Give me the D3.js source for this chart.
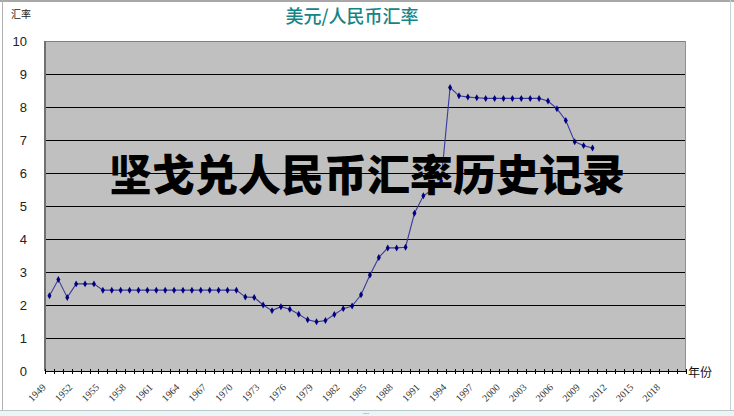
<!DOCTYPE html>
<html><head><meta charset="utf-8">
<script src="https://cdn.jsdelivr.net/npm/d3@7/dist/d3.min.js"></script>
<style>body{margin:0;background:#fff;}svg{display:block;}</style>
</head><body>
<svg id="c" width="734" height="416"></svg>
<script>
const categories = [1949,1950,1951,1952,1953,1954,1955,1956,1957,1958,1959,1960,1961,1962,1963,1964,1965,1966,1967,1968,1969,1970,1971,1972,1973,1974,1975,1976,1977,1978,1979,1980,1981,1982,1983,1984,1985,1986,1987,1988,1989,1990,1991,1992,1993,1994,1995,1996,1997,1998,1999,2000,2001,2002,2003,2004,2005,2006,2007,2008,2009,2010,2011,2012,2013,2014,2015,2016,2017,2018,2019,2020];
const rates = [2.28,2.77,2.23,2.64,2.64,2.64,2.45,2.45,2.45,2.45,2.45,2.45,2.45,2.45,2.45,2.45,2.45,2.45,2.45,2.45,2.45,2.45,2.24,2.23,2.00,1.83,1.95,1.87,1.72,1.55,1.49,1.53,1.71,1.89,1.97,2.31,2.91,3.44,3.73,3.73,3.75,4.78,5.31,5.49,5.76,8.59,8.34,8.30,8.28,8.26,8.26,8.26,8.26,8.26,8.26,8.26,8.18,7.95,7.59,6.95,6.83,6.76];
const xTickLabels = [1949,1952,1955,1958,1961,1964,1967,1970,1973,1976,1979,1982,1985,1988,1991,1994,1997,2000,2003,2006,2009,2012,2015,2018];
const yTicks = [0,1,2,3,4,5,6,7,8,9,10];
const title = "美元/人民币汇率";
const yTitle = "汇率";
const xTitle = "年份";
const watermark = "坚戈兑人民币汇率历史记录";

const svg = d3.select("#c");
const L = 45, R = 686, T = 41, B = 371;
const x = d3.scaleBand().domain(categories).range([L, R]);
const y = d3.scaleLinear().domain([0, 10]).range([B, T]);

// frame
svg.append("rect").attr("x",0).attr("y",0).attr("width",734).attr("height",416).attr("fill","#fff");
svg.append("rect").attr("x",0).attr("y",411).attr("width",734).attr("height",5).attr("fill","#eaf5f5");
svg.append("line").attr("x1",0).attr("x2",734).attr("y1",410.5).attr("y2",410.5).attr("stroke","#b8c8c8");
svg.append("rect").attr("x",0).attr("y",0).attr("width",734).attr("height",2).attr("fill","#a8a8a8");
svg.append("line").attr("x1",2.5).attr("x2",2.5).attr("y1",0).attr("y2",410).attr("stroke","#b0b0b0");
svg.append("line").attr("x1",730.5).attr("x2",730.5).attr("y1",0).attr("y2",410).attr("stroke","#c8d4d4");
svg.append("text").attr("x",366).attr("y",414).attr("text-anchor","middle").attr("font-size",6).attr("fill","#666").text("....");

// plot area
svg.append("rect").attr("x",L).attr("y",T).attr("width",R-L).attr("height",B-T).attr("fill","#c0c0c0");

// gridlines
svg.append("g").selectAll("line").data(yTicks.filter(v=>v>0&&v<10)).join("line")
  .attr("x1",L).attr("x2",R).attr("y1",d=>Math.round(y(d))+0.5).attr("y2",d=>Math.round(y(d))+0.5)
  .attr("stroke","#000").attr("stroke-width",1);

// borders
svg.append("line").attr("x1",L).attr("x2",R).attr("y1",T+0.5).attr("y2",T+0.5).attr("stroke","#808080");
svg.append("line").attr("x1",R-0.5).attr("x2",R-0.5).attr("y1",T).attr("y2",B).attr("stroke","#909090");
svg.append("line").attr("x1",L).attr("x2",L).attr("y1",T).attr("y2",B).attr("stroke","#707070").attr("stroke-width",2);
svg.append("line").attr("x1",L).attr("x2",R).attr("y1",B+0.5).attr("y2",B+0.5).attr("stroke","#000");

// x ticks
const bounds = categories.map(c=>x(c)).concat([R]);
svg.append("g").selectAll("line").data(bounds).join("line")
  .attr("x1",d=>Math.round(d)+0.5).attr("x2",d=>Math.round(d)+0.5).attr("y1",B-2).attr("y2",B+3)
  .attr("stroke","#000");

// y labels
svg.append("g").selectAll("text").data(yTicks).join("text")
  .attr("x",27).attr("y",d=>y(d)+5).attr("text-anchor","end")
  .attr("font-family","Liberation Sans, Arial, sans-serif").attr("font-size",13).attr("fill","#222")
  .text(d=>d);

// x labels
svg.append("g").selectAll("text").data(xTickLabels).join("text")
  .attr("transform",d=>`translate(${x(d)+x.bandwidth()/2-3},${B+17}) rotate(-45)`)
  .attr("text-anchor","end")
  .attr("font-family","Liberation Serif, serif").attr("font-size",10).attr("fill","#333")
  .text(d=>d);

// titles
svg.append("text").attr("x",352).attr("y",23).attr("text-anchor","middle")
  .attr("font-family","Noto Sans CJK SC, sans-serif").attr("font-weight",500).attr("font-size",18).attr("fill","#138585").text(title);
svg.append("text").attr("x",11).attr("y",18)
  .attr("font-family","Noto Sans CJK SC, sans-serif").attr("font-size",10).attr("fill","#222").text(yTitle);
svg.append("text").attr("x",688).attr("y",377)
  .attr("font-family","Noto Sans CJK SC, sans-serif").attr("font-size",12).attr("fill","#111").text(xTitle);

// series
const pts = rates.map((v,i)=>({c:categories[i], v}));
const cx = d => x(d.c) + x.bandwidth()/2;
svg.append("path").datum(pts)
  .attr("d", d3.line().x(cx).y(d=>y(d.v)))
  .attr("fill","none").attr("stroke","#3a3a9c").attr("stroke-width",1.1);
svg.append("g").selectAll("path").data(pts).join("path")
  .attr("transform",d=>`translate(${cx(d)},${y(d.v)})`)
  .attr("d", d3.symbol(d3.symbolDiamond, 14))
  .attr("fill","#000080");

// watermark
svg.append("text").attr("x",367).attr("y",191).attr("text-anchor","middle")
  .attr("font-family","Noto Sans CJK SC, sans-serif").attr("font-weight",900).attr("font-size",43)
  .attr("fill","#000").text(watermark);
</script>
</body></html>
